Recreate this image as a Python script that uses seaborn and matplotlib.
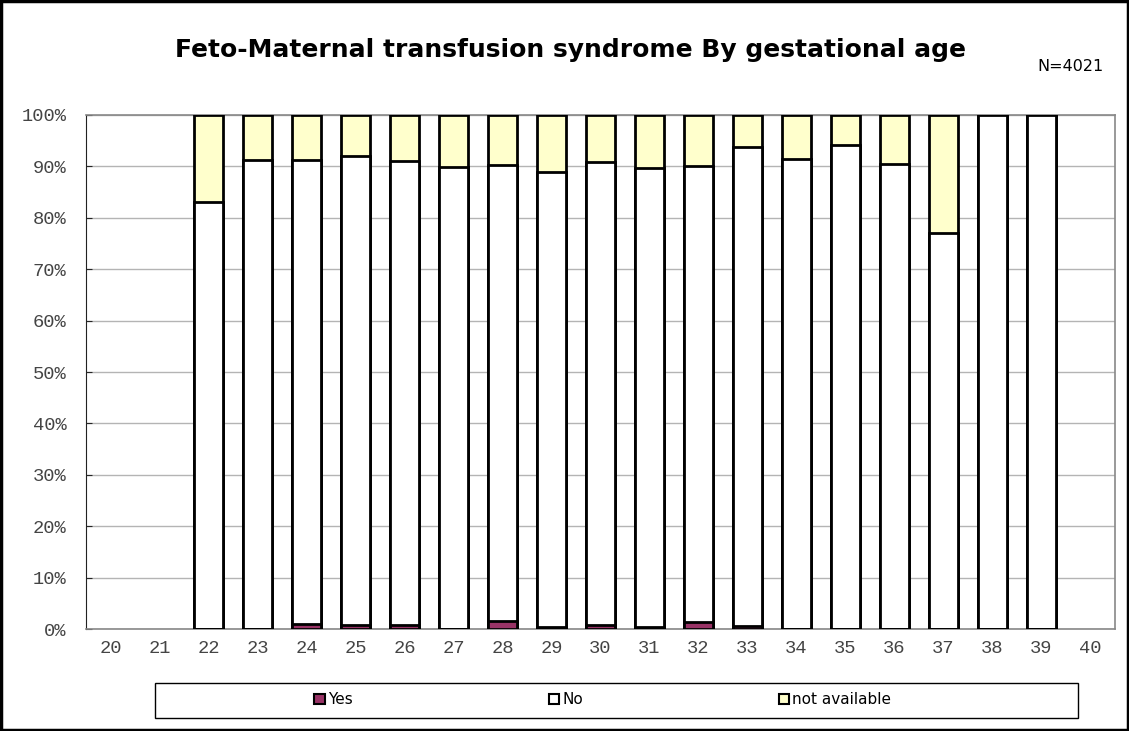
import numpy as np
import pandas as pd
import matplotlib
matplotlib.use("Agg")
import matplotlib.pyplot as plt
import seaborn as sns
from matplotlib.patches import Patch, Rectangle

# gestational age (weeks) and percentages
weeks = [str(w) for w in range(20, 41)]
yes = [np.nan, np.nan, 0.0, 0.0, 1.0, 0.8, 0.7, 0.0, 1.5, 0.4, 0.8,
       0.3, 1.3, 0.5, 0.0, 0.0, 0.0, 0.0, 0.0, 0.0, np.nan]
no = [np.nan, np.nan, 83.0, 91.2, 90.3, 91.3, 90.3, 89.8, 88.8, 88.5, 90.1,
      89.3, 88.7, 93.3, 91.4, 94.2, 90.4, 77.1, 100.0, 100.0, np.nan]
not_avail = [np.nan, np.nan, 17.0, 8.8, 8.7, 7.9, 9.0, 10.2, 9.7, 11.1, 9.1,
             10.4, 10.0, 6.2, 8.6, 5.8, 9.6, 22.9, 0.0, 0.0, np.nan]

df = pd.DataFrame({"week": weeks, "yes": yes, "no": no, "na": not_avail})
df["cum_no"] = df["yes"] + df["no"]
df["cum_na"] = df["cum_no"] + df["na"]

c_yes = "#993366"
c_no = "#ffffff"
c_na = "#ffffcc"

sns.set_style("white")
fig = plt.figure(figsize=(11.29, 7.31), dpi=100)
ax = fig.add_axes([0.0762, 0.1395, 0.9114, 0.7032])

kw = dict(x="week", order=weeks, width=0.6, edgecolor="black", linewidth=2, ax=ax,
          errorbar=None, zorder=3)
sns.barplot(data=df, y="cum_na", color=c_na, saturation=1, **kw)
sns.barplot(data=df, y="cum_no", color=c_no, saturation=1, **kw)
sns.barplot(data=df, y="yes", color=c_yes, saturation=1, **kw)

mono = "Liberation Mono"
ax.set_ylim(0, 100)
ax.set_xlim(-0.5, len(weeks) - 0.5)
ax.set_yticks(np.arange(0, 101, 10))
ax.set_yticklabels([f"{v}%" for v in range(0, 101, 10)],
                   fontfamily=mono, fontsize=13.5, color="#444444")
ax.set_xticks(range(len(weeks)))
ax.set_xticklabels(weeks, fontfamily=mono, fontsize=13.5, color="#444444")
ax.set_xticks(np.arange(-0.5, len(weeks), 1), minor=True)
ax.tick_params(axis="x", which="major", length=0, pad=8)
ax.tick_params(axis="x", which="minor", direction="in", length=4, color="#333333")
ax.tick_params(axis="y", direction="in", length=4, left=True, pad=14)
ax.set_xlabel("")
ax.set_ylabel("")
ax.yaxis.grid(True, color="#b4b4b4", linewidth=1, zorder=0)
ax.set_axisbelow(True)
for side in ["top", "right"]:
    ax.spines[side].set_color("#888888")
    ax.spines[side].set_linewidth(1.2)
ax.spines["left"].set_color("#222222")
ax.spines["bottom"].set_color("#888888")
ax.spines["bottom"].set_linewidth(1.2)

fig.text(0.505, 0.931, "Feto-Maternal transfusion syndrome By gestational age",
         ha="center", va="center", fontsize=18, fontweight="bold", color="black")
fig.text(0.948, 0.909, "N=4021", ha="center", va="center", fontsize=11.5, color="black")

handles = [Patch(facecolor=c_yes, edgecolor="black", linewidth=1.5, label="Yes"),
           Patch(facecolor=c_no, edgecolor="black", linewidth=1.5, label="No"),
           Patch(facecolor=c_na, edgecolor="black", linewidth=1.5, label="not available")]
leg = fig.legend(handles=handles, ncol=3, loc="center",
                 bbox_to_anchor=(0.534, 0.0425),
                 frameon=False, handlelength=0.7, handleheight=0.7,
                 handletextpad=0.2, columnspacing=12.8, fontsize=11,
                 labelcolor="black")

# legend box
fig.patches.append(Rectangle((0.1373, 0.0178), 0.8176, 0.0479, transform=fig.transFigure,
                             fill=False, edgecolor="black", linewidth=1))
# chart border
fig.patches.append(Rectangle((0.001, 0.001), 0.998, 0.998, transform=fig.transFigure,
                             fill=False, edgecolor="black", linewidth=2.5))

fig.savefig("out.png", dpi=100)
